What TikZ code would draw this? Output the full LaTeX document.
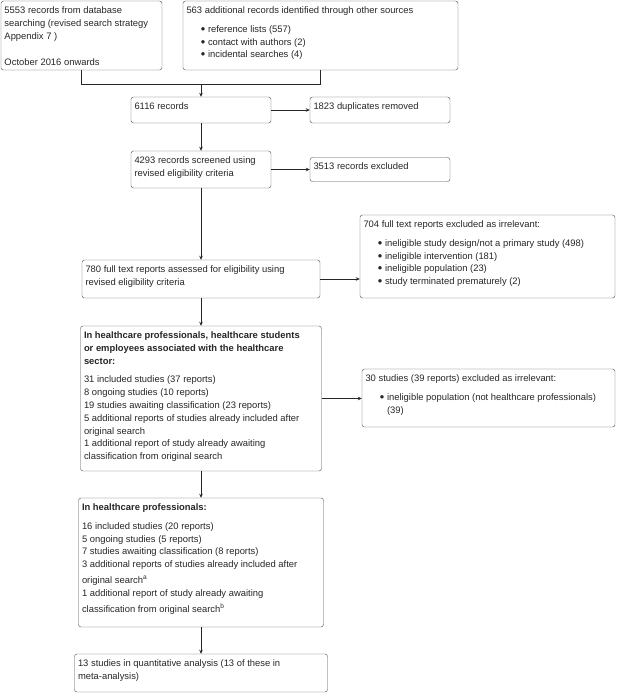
\documentclass[tikz,border=0pt]{standalone}
\usepackage{fontspec}
\setmainfont{Liberation Sans}
\usetikzlibrary{arrows.meta, positioning}

\newcommand{\boxtext}[3]{\parbox[c][#2pt][t]{#1pt}{\raggedright\strut #3}}
\newcommand{\itemdot}{\hspace*{14.5pt}\makebox[4pt]{\raisebox{-1.1pt}{\scalebox{1.35}{\textbullet}}}\hspace{3pt}}

\begin{document}
\begin{tikzpicture}[
    x=1pt, y=-1pt,
    box/.style={draw=black!70, rounded corners=2.5pt, inner xsep=3.5pt, inner ysep=3.5pt,
        text=black!85, font=\fontsize{9.4}{12.8}\selectfont},
    arr/.style={draw=black!85, line width=0.8pt, -{Stealth[length=4pt,width=3.5pt]}},
    link/.style={draw=black!85, line width=0.8pt}
]
\useasboundingbox (0,0) rectangle (616,693);

\node[box] (src) at (81.5,35.5) {\boxtext{154}{62}{5553 records from database\\
    searching (revised search strategy\\ Appendix 7 )\\[14pt] October 2016 onwards}};
\node[box] (other) at (320.5,35.5) {\boxtext{268}{62}{563 additional records identified through other sources\\[6pt]
    \itemdot reference lists (557)\\ \itemdot contact with authors (2)\\ \itemdot incidental searches (4)}};

\node[box] (recs) at (201,110) {\boxtext{133}{19}{6116 records}};
\node[box] (dups) at (380,110) {\boxtext{133}{19}{1823 duplicates removed}};

\node[box] (screen) at (201,169.5) {\boxtext{133}{30}{4293 records screened using\\ revised eligibility criteria}};
\node[box] (excl) at (380,169.5) {\boxtext{133}{17}{3513 records excluded}};

\node[box] (full) at (201,279) {\boxtext{231}{31}{780 full text reports assessed for eligibility using\\ revised eligibility criteria}};
\node[box] (ftex) at (487.5,256.5) {\boxtext{248}{76}{704 full text reports excluded as irrelevant:\\[6pt]
    \itemdot ineligible study design/not a primary study (498)\\
    \itemdot ineligible intervention (181)\\
    \itemdot ineligible population (23)\\
    \itemdot study terminated prematurely (2)}};

\node[box] (hcs) at (201,398.5) {\boxtext{234}{138}{\textbf{In healthcare professionals, healthcare students\\
    or employees associated with the healthcare\\ sector:}\\[6pt]
    31 included studies (37 reports)\\
    8 ongoing studies (10 reports)\\
    19 studies awaiting classification (23 reports)\\
    5 additional reports of studies already included after\\
    original search\\
    1 additional report of study already awaiting\\
    classification from original search}};
\node[box] (hcx) at (488.5,398) {\boxtext{246}{51}{30 studies (39 reports) excluded as irrelevant:\\[6pt]
    \itemdot ineligible population (not healthcare professionals)\\
    \hspace*{21.5pt}(39)}};

\node[box] (hp) at (201,562.5) {\boxtext{238}{122}{\textbf{In healthcare professionals:}\\[6pt]
    16 included studies (20 reports)\\
    5 ongoing studies (5 reports)\\
    7 studies awaiting classification (8 reports)\\
    3 additional reports of studies already included after\\[3pt]
    original search\textsuperscript{a}\\
    1 additional report of study already awaiting\\[3pt]
    classification from original search\textsuperscript{b}}};

\node[box] (quant) at (201,673) {\boxtext{246}{31}{13 studies in quantitative analysis (13 of these in\\ meta-analysis)}};

\coordinate (join) at (201,84);
\draw[link] (src.south) |- (join);
\draw[link] (other.south) |- (join);
\draw[arr] (join) -- (recs.north);

\draw[arr] (recs) -- (dups);
\draw[arr] (recs) -- (screen);
\draw[arr] (screen) -- (excl);
\draw[arr] (screen) -- (full);
\draw[arr] (full.east) -- (full.east -| ftex.west);
\draw[arr] (full) -- (hcs);
\draw[arr] (hcs.east) -- (hcs.east -| hcx.west);
\draw[arr] (hcs) -- (hp);
\draw[arr] (hp) -- (quant);
\end{tikzpicture}
\end{document}
